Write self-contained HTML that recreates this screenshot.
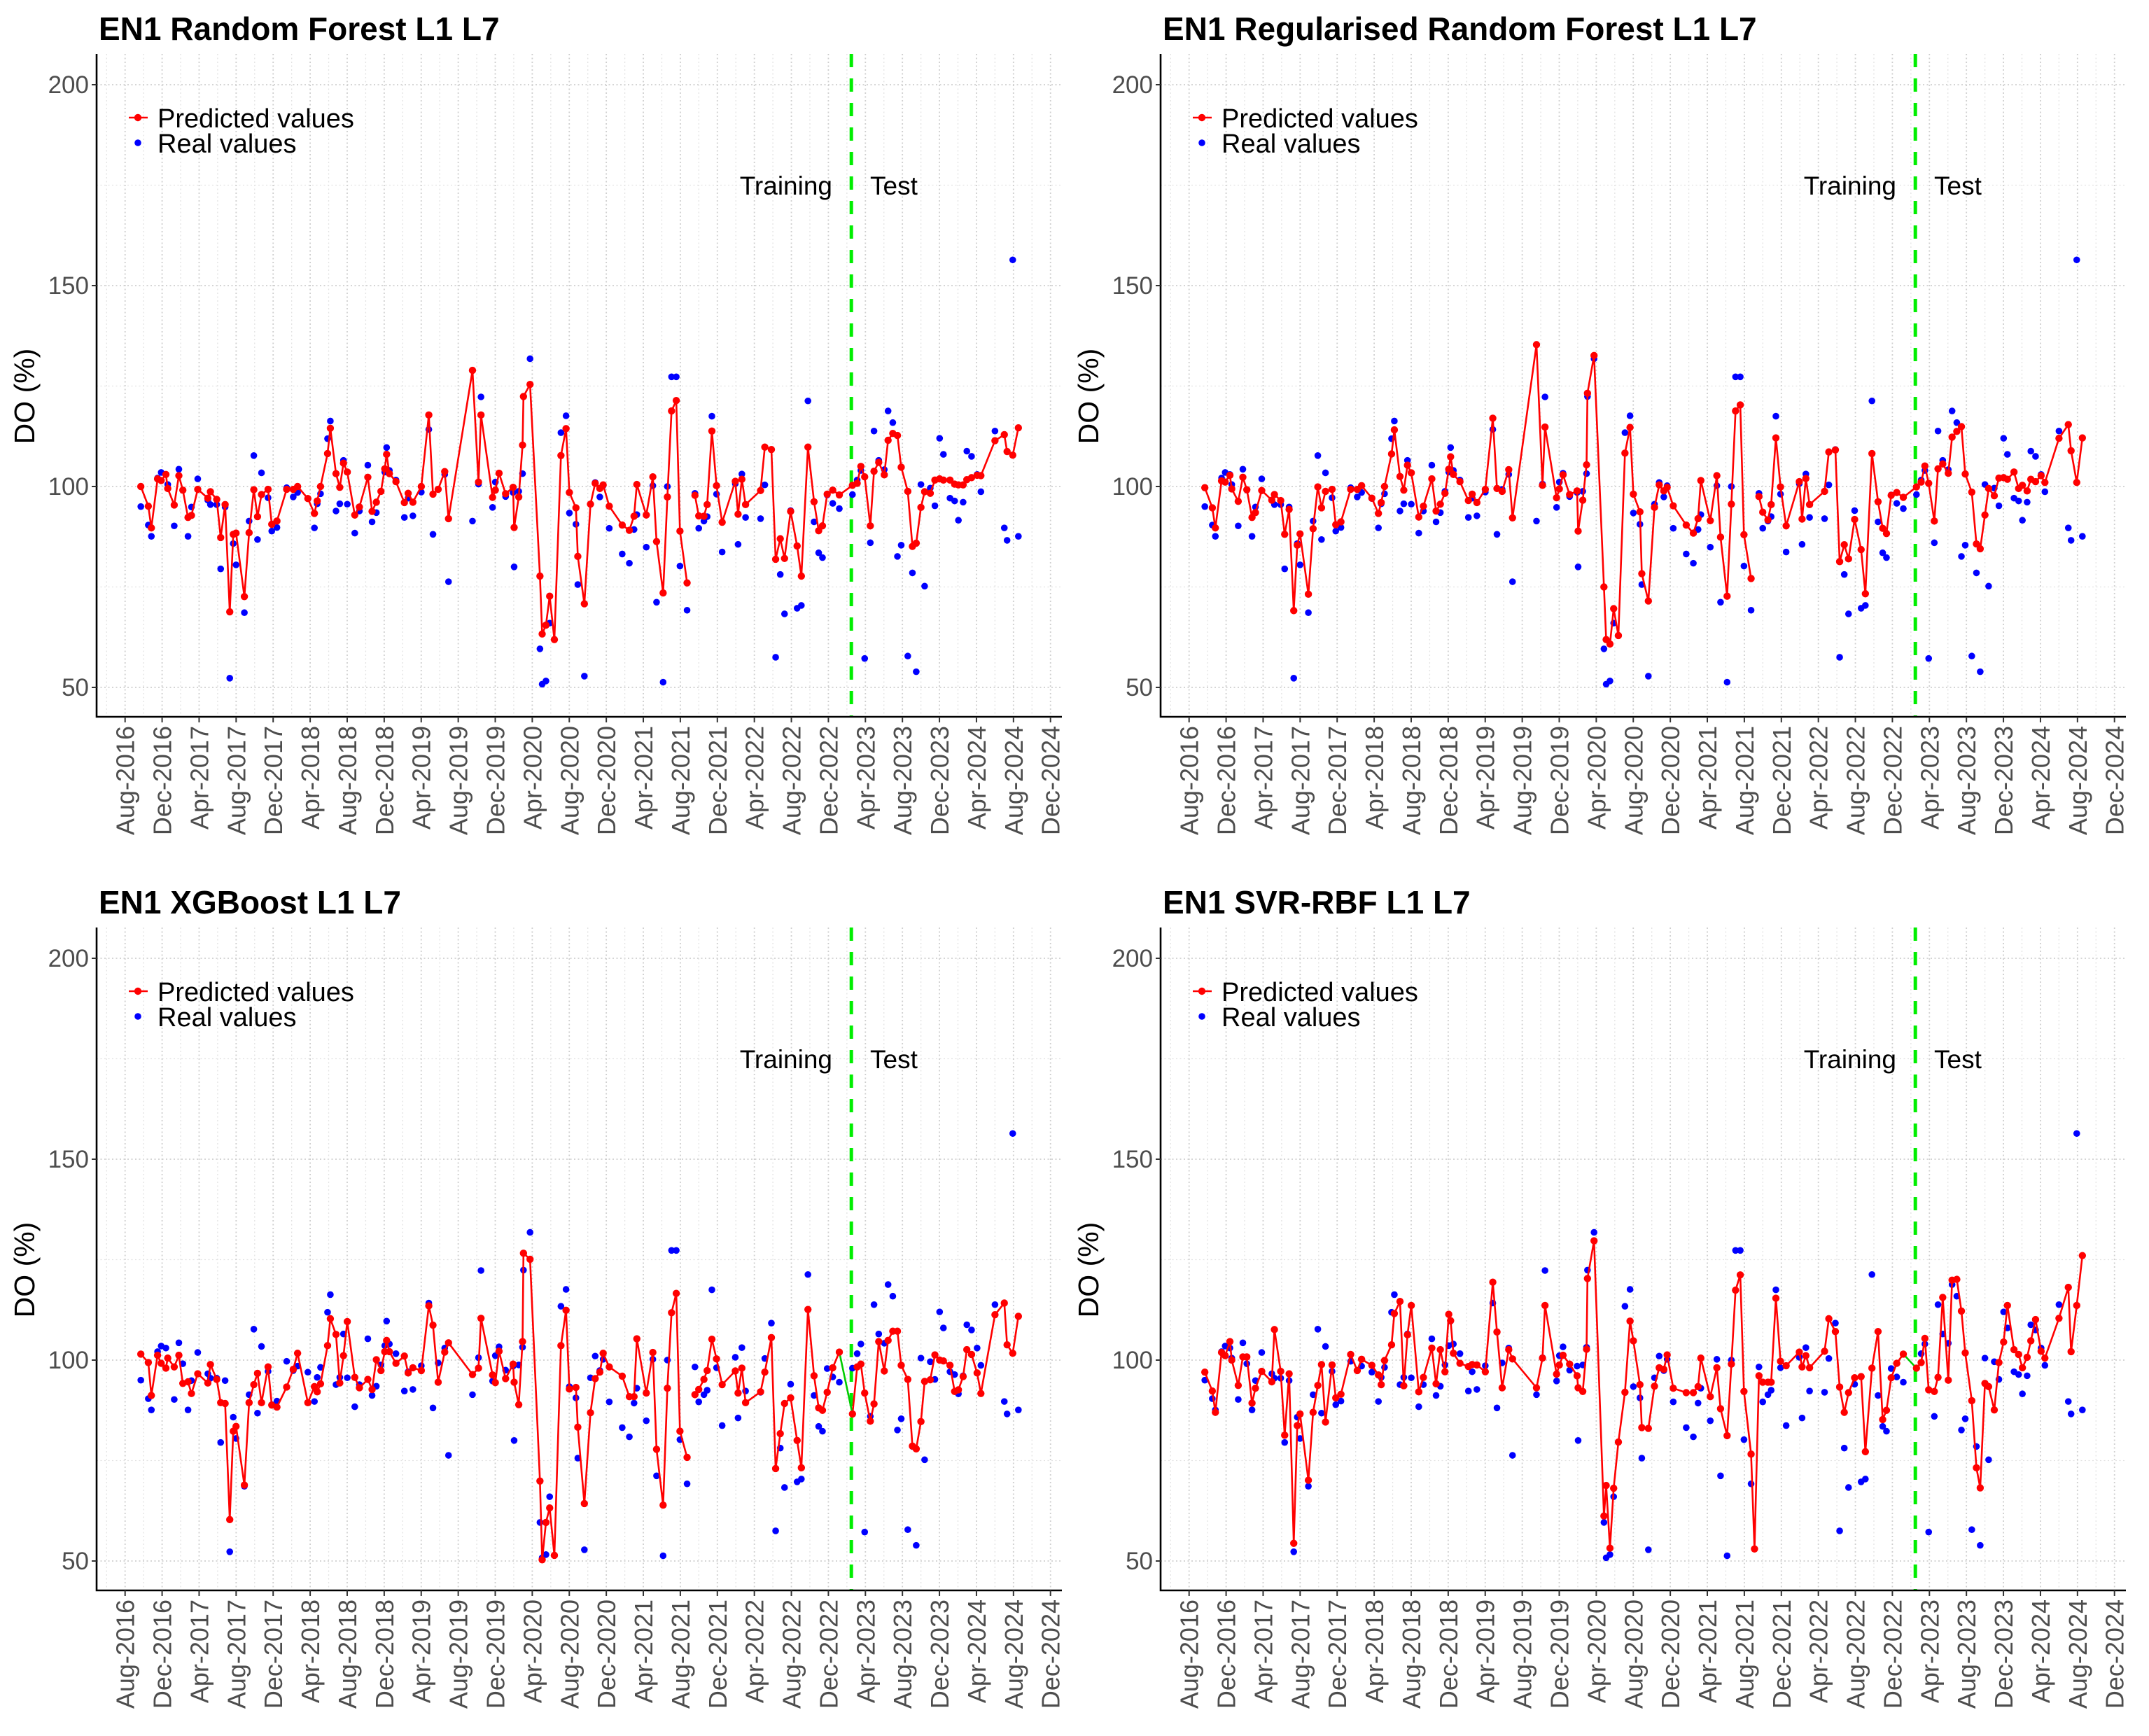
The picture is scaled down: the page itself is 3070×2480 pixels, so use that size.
<!DOCTYPE html>
<html>
<head>
<meta charset="utf-8">
<style>
html,body{margin:0;padding:0;background:#fff;}
svg{display:block;}
text{font-family:"Liberation Sans",Arial,sans-serif;}
</style>
</head>
<body>
<svg id="chart" width="3070" height="2480" viewBox="0 0 3070 2480" xmlns="http://www.w3.org/2000/svg">
<rect x="0" y="0" width="3070" height="2480" fill="#ffffff"/>
</svg>
<script>
// ---- data ----
const monthIdx = [1.70,2.51,2.84,3.51,3.90,4.41,4.61,5.31,5.81,6.24,6.80,7.17,7.85,8.94,9.22,9.90,10.33,10.81,11.31,11.69,11.99,12.89,13.40,13.91,14.31,14.74,15.45,15.85,16.41,17.46,18.17,18.64,19.75,20.46,20.76,21.12,21.88,22.18,22.79,23.20,23.60,24.01,24.82,25.32,26.23,26.69,27.15,27.65,28.06,28.26,28.56,29.27,30.18,30.59,31.10,32.01,32.82,33.27,33.83,34.54,34.95,37.54,38.19,38.46,39.71,40.01,40.41,41.12,41.93,42.04,42.54,42.95,43.05,43.76,44.83,45.07,45.48,45.88,46.39,47.10,47.65,48.01,48.72,48.92,49.63,50.29,50.80,51.30,51.66,52.32,53.72,54.49,55.00,55.30,56.32,57.03,57.43,58.14,58.60,59.05,59.56,59.96,60.73,61.10,61.58,61.99,62.55,62.90,63.41,63.91,64.52,65.94,66.24,66.65,67.05,68.67,69.13,69.84,70.30,70.80,71.26,71.92,72.62,73.08,73.79,74.45,74.95,75.36,75.87,76.47,77.18,78.60,79.11,79.51,79.92,80.53,80.93,81.44,82.04,82.45,82.96,83.46,83.87,84.58,85.08,85.49,86.00,86.40,87.01,87.51,88.02,88.43,89.14,89.64,90.05,90.56,90.96,91.47,92.07,92.48,94.00,95.01,95.31,95.92,96.53];
const realValues = [95,90.4,87.6,102.1,103.5,103,100.5,90.2,104.3,99.1,87.6,94.9,101.9,96.6,95.5,95.5,79.5,94.9,52.3,85.8,80.5,68.6,91.4,107.7,86.8,103.4,97.2,88.9,89.8,99.7,97.4,98.5,97,89.7,95.7,98.2,111.9,116.3,93.9,95.7,106.5,95.6,88.4,93.9,105.3,91.2,93.5,98.8,103.6,109.7,104,101.6,92.3,97.1,92.7,98.6,114.2,88.1,99.3,103,76.3,91.4,100.6,122.3,94.8,101.1,103.3,97.5,98.5,80,98.8,103.2,122.4,131.8,59.6,50.8,51.6,66,null,113.4,117.6,93.4,90.6,75.6,52.8,95.6,101,97.4,100.2,89.6,83.2,80.9,89.3,93,84.9,100.2,71.2,51.3,100,127.3,127.3,80.2,69.2,null,98.3,89.6,91.4,92.5,117.5,98.1,83.7,100.7,85.6,103.1,92.3,92,100.4,109.2,57.5,78.1,68.3,94,69.7,70.4,121.3,91.2,83.5,82.3,97.9,95.8,94.5,98,101.6,104,57.2,86,113.8,106.5,104.2,118.8,115.9,82.6,85.4,57.8,78.5,53.9,100.5,75.2,99.6,95.2,112,108,97.1,96.4,91.6,96.1,108.8,107.5,103,98.7,113.8,89.7,86.6,156.4,87.6];
const predRF = [100,95.1,89.7,101.9,101.5,103,99.5,95.4,102.7,99.1,92.3,92.8,99.3,97.1,98.7,96.8,87.3,95.5,68.8,88.1,88.4,72.6,88.5,99.2,92.5,98,99.3,90.6,91.4,99.3,99.3,100,97,93.3,96.4,100,108.2,114.5,103.2,99.8,105.8,103.6,92.9,94.9,102.3,93.8,96.1,98.8,104.4,108,103.2,101.2,96,98.3,96.1,100,117.8,98.1,99.3,103.7,92,128.9,101.1,117.8,97.3,99.1,103.3,98.2,99.8,89.8,97.4,110.3,122.4,125.4,77.7,63.3,65.5,72.7,61.9,107.7,114.4,98.5,94.7,82.6,70.8,95.6,100.8,99.5,100.4,95.1,90.4,89.1,92.6,100.5,92.9,102.4,86.3,73.5,97.4,118.8,121.4,88.9,76,null,97.8,92.7,92.6,95.5,113.8,100.2,91.1,101.3,93.1,101.8,95.5,99,109.8,109.2,81.9,87,82.1,93.8,85.2,77.7,109.8,96.2,89,90.2,98.1,99.1,97.9,100.3,100.8,105,102.4,90.2,103.8,106,102.9,111.5,113.2,112.7,104.8,98.8,85.1,85.9,94.8,98.7,98.3,101.6,101.9,101.6,101.6,100.6,100.4,100.4,101.7,102.2,102.8,102.7,111.4,112.9,108.7,107.8,114.6];
const predRRF = [99.7,94.7,89.7,101.4,101.1,102.8,99.4,96.3,102.3,99.2,92.3,93.5,99,96.6,98,96.5,88.1,94.3,69.1,85.4,88.2,73.2,89.5,99.9,94.7,98.8,99.3,90.5,91.2,99.3,99.3,100.2,97.1,93.3,96,100,108.1,114.1,102.5,99.1,105.3,103.4,92.4,95.1,101.9,93.9,95.6,98.3,104.3,107.4,103,101.2,96.5,98.1,96,99.3,117,99.5,98.8,104.2,92.2,135.3,100.3,114.8,97.2,99.4,102.9,98,98.9,88.9,96.6,105.4,123.2,132.6,75,61.9,60.8,69.6,62.9,108.3,114.7,98.1,93.7,78.3,71.5,94.8,100.4,98.9,99.8,95.2,90.4,88.4,92,101.5,91.5,102.7,87.4,72.7,95.6,118.8,120.3,88,77.1,null,97.5,93.6,91.7,95.5,112.1,99.9,90.2,101.2,91.9,102,95.5,98.8,108.6,109.1,81.3,85.5,82,91.8,84.3,73.3,108.2,96.2,89.6,88.3,97.8,98.5,97.3,99.9,101.1,105.1,100.8,91.4,104.4,105.6,103.3,112.3,113.7,114.9,103.1,98.6,85.7,84.5,92.9,99.5,97.7,102.1,102.2,101.8,103.6,99.5,100.3,98.9,101.8,101.2,102.7,101,112,115.4,108.9,101,112.1];
const predXGB = [101.5,99.4,91.2,101.2,99.2,98,100.5,98.3,101.2,94.2,94.6,91.7,96.6,94.3,98.9,95.2,89.4,89.2,60.3,82.3,83.5,68.9,89.4,93.9,96.7,89.4,98.3,88.8,88.3,93.3,97.7,101.7,89.4,93.4,92.1,94.1,103.6,110.3,106.4,94.3,101.1,109.6,95.7,93.1,95.2,92.7,100.1,97.4,102.1,104.9,102.1,99.2,101,96.8,98.1,97.4,113.5,108.7,94.5,102,104.3,96.4,98,110.4,96.3,94.4,102.2,95.4,99,94.5,88.9,104.6,126.6,125.1,69.9,50.3,59.6,63.2,51.4,103.6,112.4,92.8,93.2,83.3,64.3,86.9,95.4,97,101.7,98.3,96,90.9,90.9,105.3,91.8,101.9,77.8,63.9,93,111.8,116.6,82.3,75.8,null,91.4,92.7,95.2,97.4,105.2,100.3,93.9,97.3,91.8,98,89.4,92.1,97,105.6,73,81.7,89.2,90.6,80,73.2,112.6,96.1,88.1,87.5,92,98.1,102,86.6,98.3,99,91.8,84.8,89.1,104.6,97.3,104.9,107.2,107.2,98.7,95.2,78.6,77.9,84.7,94.7,95.1,101.3,100,99.8,98.7,92.2,92.6,95.9,102.6,101.4,96.8,91.7,111.3,114.2,103.8,101.7,110.9];
const predSVR = [97,92.3,87,101.9,101.1,104.6,100,93.7,100.8,100.8,89.3,93,97.2,94.6,107.6,97.2,81.3,96.6,54.4,83.7,86.6,70.1,87,93.7,98.9,84.6,98.8,90.6,91.5,101.4,97.4,100.2,98.7,96.3,93.9,99.9,103.8,111.6,114.6,93.6,106.3,113.6,92.1,95.7,103,94.1,102.6,97.1,111.4,109.8,101.7,99.2,98.4,98.9,98.8,97.1,119.4,107,93.1,102.6,100.3,93.1,100.5,113.6,96.5,98.8,101.2,99,96.1,93.1,92.2,102.7,120.3,129.7,61.2,68.8,53.2,68.1,79.6,92,109.7,104.8,93.9,83.2,83,93.5,98.1,97.7,101.3,93,91.9,91.9,93.4,100.5,90.9,98.1,87.9,81.2,99,117.4,121.2,92.2,76.6,53,96.1,94.5,94.5,94.5,115.4,99.7,98.6,102,98.3,101.1,98.1,102.2,110.3,107.1,93.3,87,91.9,95.6,95.9,77.2,98,107.1,85.2,87.5,95.6,99.2,101.5,98,99.4,105.4,92.6,92.2,95.7,115.6,95,119.9,120.1,112.2,101.8,89.9,73.2,68.2,94.2,93.4,87.6,99.4,104.5,113.6,102.6,101.4,98.1,100.7,104.8,110.1,102.2,100.5,110.4,118.1,102.1,113.6,126];
const tickLabels = ["Aug-2016","Dec-2016","Apr-2017","Aug-2017","Dec-2017","Apr-2018","Aug-2018","Dec-2018","Apr-2019","Aug-2019","Dec-2019","Apr-2020","Aug-2020","Dec-2020","Apr-2021","Aug-2021","Dec-2021","Apr-2022","Aug-2022","Dec-2022","Apr-2023","Aug-2023","Dec-2023","Apr-2024","Aug-2024","Dec-2024"];
const yTicks = [50,100,150,200];
const yMinor = [75,125,175];
const splitMonth = 78.48;
const testStart = 131; // first test index
const panelTitles = ["EN1 Random Forest L1 L7","EN1 Regularised Random Forest L1 L7","EN1 XGBoost L1 L7","EN1 SVR-RBF L1 L7"];
const panelPreds = [predRF, predRRF, predXGB, predSVR];
const panelGreenLink = [false,false,true,true];

// ---- drawing ----
const NS = "http://www.w3.org/2000/svg";
const svg = document.getElementById("chart");
function mk(tag, attrs, parent){
  const e = document.createElementNS(NS, tag);
  for (const k in attrs) e.setAttribute(k, attrs[k]);
  (parent || svg).appendChild(e);
  return e;
}
const PL = 138, PR = 1517, PT = 77, PB = 1024;
for (let p = 0; p < 4; p++) {
  const dx = (p % 2) * 1520, dy = Math.floor(p / 2) * 1248;
  const xs = m => 178.7 + m * 13.22 + dx;
  const ys = v => 695 - (v - 100) * 5.74 + dy;
  const g = mk("g", {});
  
  

  // grid
  const grid = mk("g", {}, g);
  
  
  yMinor.forEach(v => {
    const l = mk("line", {x1: PL+dx, x2: PR+dx, y1: ys(v), y2: ys(v), stroke: "#e2e2e2", "stroke-width": 1.3, "stroke-dasharray": "2,3.5"}, grid);
    
    
  });
  yTicks.forEach(v => {
    const l = mk("line", {x1: PL+dx, x2: PR+dx, y1: ys(v), y2: ys(v), stroke: "#cfcfcf", "stroke-width": 1.8, "stroke-dasharray": "2,3.5"}, grid);
    
    
  });
  for (let i = -1; i < tickLabels.length; i++) {
    const mm = i * 4 + 2;
    const xx = xs(mm);
    if (xx > PL + dx && xx < PR + dx) {
      const l = mk("line", {x1: xx, x2: xx, y1: PT+dy, y2: PB+dy, stroke: "#e2e2e2", "stroke-width": 1.3, "stroke-dasharray": "2,3.5"}, grid);
      
      
    }
  }
  tickLabels.forEach((t, i) => {
    const xx = xs(i * 4);
    const l = mk("line", {x1: xx, x2: xx, y1: PT+dy, y2: PB+dy, stroke: "#cfcfcf", "stroke-width": 1.8, "stroke-dasharray": "2,3.5"}, grid);
    
    
  });

  // split line
  const sl = mk("line", {x1: xs(splitMonth), x2: xs(splitMonth), y1: PT+dy, y2: PB+dy, stroke: "#00ee00", "stroke-width": 5, "stroke-dasharray": "19,16"}, g);
  
  

  // real values
  const rg = mk("g", {}, g);
  
  
  realValues.forEach((v, i) => {
    if (v === null) return;
    const c = mk("circle", {cx: xs(monthIdx[i]), cy: ys(v), r: 4.8, fill: "#0000ff"}, rg);
    
    
  });

  // predicted line
  const pred = panelPreds[p];
  const pg = mk("g", {}, g);
  
  
  let segs = [], cur = [];
  for (let i = 0; i < pred.length; i++) {
    if (i === testStart) { if (cur.length) segs.push(cur); cur = []; }
    if (pred[i] === null) { if (cur.length) segs.push(cur); cur = []; continue; }
    cur.push([xs(monthIdx[i]), ys(pred[i])]);
  }
  if (cur.length) segs.push(cur);
  segs.forEach(s => {
    const pl = mk("polyline", {points: s.map(q => q.join(",")).join(" "), fill: "none", stroke: "#ff0000", "stroke-width": 2.6, "stroke-linejoin": "round"}, pg);
    
    
  });
  const a = testStart - 1, b = testStart;
  const link = mk("line", {x1: xs(monthIdx[a]), y1: ys(pred[a]), x2: xs(monthIdx[b]), y2: ys(pred[b]), stroke: panelGreenLink[p] ? "#00cc00" : "#ff0000", "stroke-width": 2.6}, pg);
  
  
  pred.forEach((v, i) => {
    if (v === null) return;
    const c = mk("circle", {cx: xs(monthIdx[i]), cy: ys(v), r: 5.2, fill: "#ff0000"}, pg);
    
    
  });

  // axes
  const ax = mk("path", {d: `M${PL+dx},${PT+dy} V${PB+dy} H${PR+dx}`, fill: "none", stroke: "#000", "stroke-width": 2.6}, g);
  
  

  // y ticks
  yTicks.forEach(v => {
    const tk = mk("line", {x1: PL+dx-7, x2: PL+dx, y1: ys(v), y2: ys(v), stroke: "#333", "stroke-width": 2}, g);
    
    
    const t = mk("text", {x: 127+dx, y: ys(v)+12, "text-anchor": "end", "font-size": 35, fill: "#4d4d4d"}, g);
    t.textContent = v;
    
    
  });
  // x ticks
  tickLabels.forEach((lab, i) => {
    const xx = xs(i * 4);
    const tk = mk("line", {x1: xx, x2: xx, y1: PB+dy, y2: PB+dy+8, stroke: "#333", "stroke-width": 2}, g);
    
    
    const ty = PB + dy + 13;
    const t = mk("text", {x: xx+13, y: ty, "text-anchor": "end", "font-size": 36, fill: "#4d4d4d", transform: `rotate(-90 ${xx+13} ${ty})`}, g);
    t.textContent = lab;
    
    
  });

  // titles
  const tt = mk("text", {x: 141+dx, y: 57+dy, "font-size": 46, "font-weight": "bold", fill: "#000"}, g);
  tt.textContent = panelTitles[p];
  
  
  const yt = mk("text", {x: 49+dx, y: 566+dy, "text-anchor": "middle", "font-size": 41, fill: "#000", transform: `rotate(-90 ${49+dx} ${566+dy})`}, g);
  yt.textContent = "DO (%)";
  
  

  // annotations
  const tr = mk("text", {x: 1189+dx, y: 278+dy, "text-anchor": "end", "font-size": 37, fill: "#000"}, g);
  tr.textContent = "Training";
  
  
  const te = mk("text", {x: 1243+dx, y: 278+dy, "font-size": 37, fill: "#000"}, g);
  te.textContent = "Test";
  
  

  // legend
  const lg = mk("g", {}, g);
  
  
  const e1 = mk("g", {}, lg);
  
  
  mk("line", {x1: 184+dx, x2: 211+dx, y1: 168+dy, y2: 168+dy, stroke: "#ff0000", "stroke-width": 2.6}, e1);
  mk("circle", {cx: 197+dx, cy: 168+dy, r: 5.2, fill: "#ff0000"}, e1);
  const l1 = mk("text", {x: 225+dx, y: 182+dy, "font-size": 38, fill: "#000"}, e1);
  l1.textContent = "Predicted values";
  const e2 = mk("g", {}, lg);
  
  
  mk("circle", {cx: 197+dx, cy: 204+dy, r: 4.8, fill: "#0000ff"}, e2);
  const l2 = mk("text", {x: 225+dx, y: 218+dy, "font-size": 38, fill: "#000"}, e2);
  l2.textContent = "Real values";
}
</script>
</body>
</html>
